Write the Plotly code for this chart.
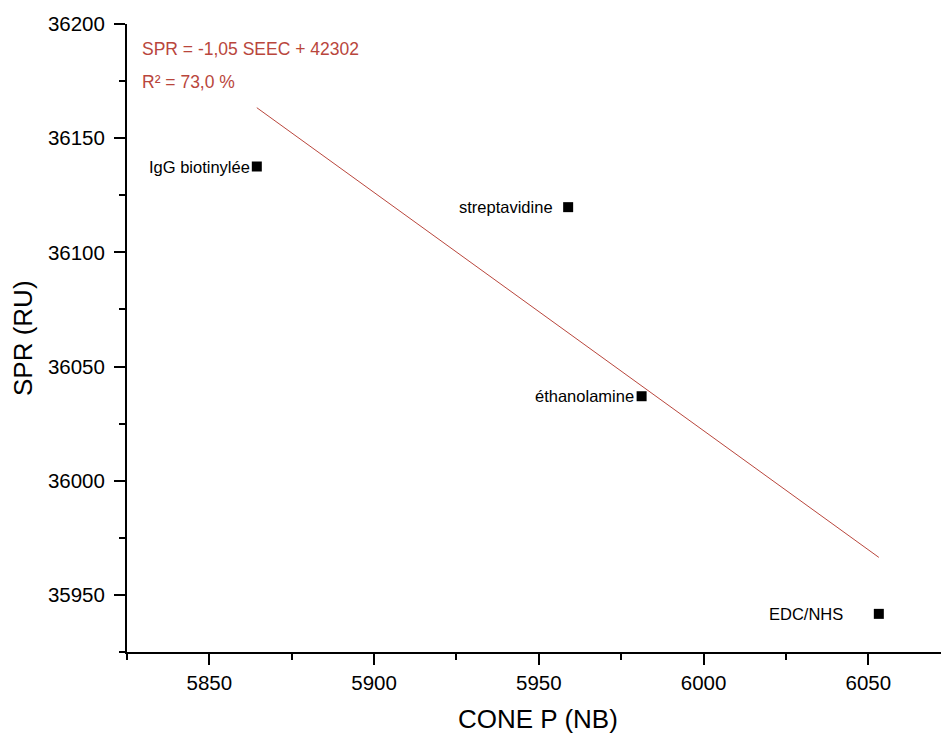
import numpy as np
import plotly.graph_objects as go

# data -------------------------------------------------------------------------
labels = ['IgG biotinylée', 'streptavidine', 'éthanolamine', 'EDC/NHS']
cone_p = [5864.4, 5958.9, 5981.2, 6053.2]
spr = [36137.6, 36119.8, 36037.0, 35941.7]
fit_text = ['SPR = -1,05 SEEC + 42302', 'R² = 73,0 %']
x_title = 'CONE P (NB)'
y_title = 'SPR (RU)'
label_gap = [-5, -13, -6, -34]   # horizontal shift of each point label (px)

FONT = 'Arial, Liberation Sans, sans-serif'
RED = 'rgb(185, 70, 60)'

# linear fit line ------------------------------------------------------------
slope, icpt = np.polyfit(cone_p, spr, 1)
xf = np.array([min(cone_p), max(cone_p)])
yf = slope * xf + icpt

fig = go.Figure()
fig.add_trace(go.Scatter(x=xf, y=yf, mode='lines',
                         line=dict(color=RED, width=1), hoverinfo='skip'))
fig.add_trace(go.Scatter(x=cone_p, y=spr, mode='markers',
                         marker=dict(symbol='square', size=10, color='black'),
                         text=labels))

for lab, xv, yv, sh in zip(labels, cone_p, spr, label_gap):
    fig.add_annotation(x=xv, y=yv, text=lab, showarrow=False,
                       xanchor='right', yanchor='middle', xshift=sh,
                       font=dict(family=FONT, size=16.5, color='black'))

for i, t in enumerate(fit_text):
    fig.add_annotation(x=0.0158, y=0.960 - i * 0.0525, xref='paper', yref='paper',
                       text=t, showarrow=False, xanchor='left', yanchor='middle',
                       font=dict(family=FONT, size=17.5, color=RED))

# axis titles as annotations for exact placement
fig.add_annotation(x=0.5, y=0, xref='paper', yref='paper', yshift=-67,
                   text=x_title, showarrow=False, xanchor='center',
                   yanchor='middle', borderpad=0,
                   font=dict(family=FONT, size=26, color='black'))
fig.add_annotation(x=0, y=0.5, xref='paper', yref='paper', xshift=-104,
                   text=y_title, textangle=-90, showarrow=False,
                   xanchor='center', yanchor='middle',
                   font=dict(family=FONT, size=26, color='black'))

# axes -----------------------------------------------------------------------
ax_common = dict(showline=True, linecolor='black', linewidth=2, mirror=False,
                 ticks='outside', ticklen=11, tickwidth=1.5, tickcolor='black',
                 showgrid=False, zeroline=False, automargin=False,
                 tickformat='d',
                 tickfont=dict(family=FONT, size=20.5, color='black'))
fig.update_xaxes(range=[5825, 6074.5], tick0=5850, dtick=50,
                 ticklabelstandoff=0,
                 minor=dict(dtick=25, tick0=5825, ticks='outside', ticklen=6,
                            tickwidth=1.5, tickcolor='black'),
                 **ax_common)
fig.update_yaxes(range=[35925, 36200], tick0=35950, dtick=50,
                 ticklabelstandoff=5,
                 minor=dict(dtick=25, tick0=35925, ticks='outside', ticklen=6,
                            tickwidth=1.5, tickcolor='black'),
                 **ax_common)

# the page body adds an 8 px margin, so margins are shifted by 8 px
fig.update_layout(width=949, height=733, showlegend=False,
                  plot_bgcolor='white', paper_bgcolor='white',
                  margin=dict(l=119, r=8, t=16, b=89))
fig.write_html('out.html')
